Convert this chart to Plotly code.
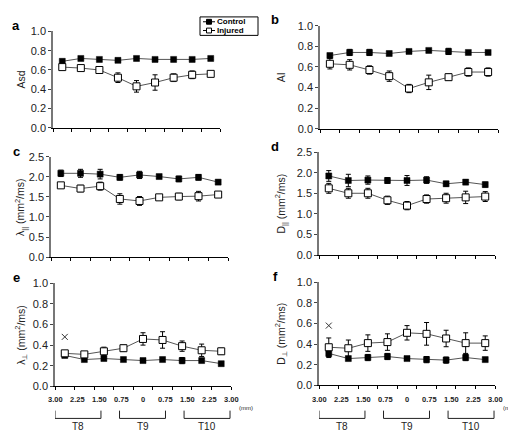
import plotly.graph_objects as go

W, H = 516, 431
FONT = "Liberation Sans, Arial, sans-serif"

positions = [0.5, 1.5, 2.5, 3.5, 4.5, 5.5, 6.5, 7.5, 8.5]
tick_labels = ["3.00", "2.25", "1.50", "0.75", "0", "0.75", "1.50", "2.25", "3.00"]
segments = ["T8", "T9", "T10"]
series_names = ["Control", "Injured"]

# panel a: Asd
asd_ctrl = [0.69, 0.72, 0.71, 0.70, 0.72, 0.71, 0.71, 0.71, 0.72]
asd_ctrl_err = [0.01, 0.01, 0.01, 0.01, 0.01, 0.01, 0.01, 0.01, 0.01]
asd_inj = [0.63, 0.62, 0.60, 0.52, 0.43, 0.47, 0.52, 0.55, 0.56]
asd_inj_err = [0.02, 0.02, 0.02, 0.05, 0.06, 0.08, 0.04, 0.04, 0.02]
# panel b: AI
ai_ctrl = [0.71, 0.74, 0.74, 0.73, 0.75, 0.76, 0.75, 0.74, 0.74]
ai_ctrl_err = [0.02, 0.03, 0.03, 0.02, 0.02, 0.01, 0.03, 0.01, 0.01]
ai_inj = [0.63, 0.62, 0.57, 0.51, 0.39, 0.45, 0.50, 0.55, 0.55]
ai_inj_err = [0.05, 0.05, 0.04, 0.05, 0.04, 0.07, 0.03, 0.04, 0.04]
# panel c: lambda parallel
lpar_ctrl = [2.09, 2.09, 2.07, 1.99, 2.05, 2.01, 1.95, 1.99, 1.87]
lpar_ctrl_err = [0.08, 0.10, 0.12, 0.07, 0.09, 0.05, 0.07, 0.07, 0.05]
lpar_inj = [1.79, 1.71, 1.77, 1.45, 1.40, 1.49, 1.51, 1.52, 1.56]
lpar_inj_err = [0.05, 0.08, 0.10, 0.13, 0.11, 0.05, 0.08, 0.12, 0.03]
# panel d: D parallel
dpar_ctrl = [1.92, 1.81, 1.82, 1.81, 1.81, 1.82, 1.73, 1.77, 1.71]
dpar_ctrl_err = [0.13, 0.15, 0.10, 0.07, 0.12, 0.08, 0.06, 0.06, 0.06]
dpar_inj = [1.62, 1.50, 1.50, 1.33, 1.20, 1.36, 1.38, 1.40, 1.42]
dpar_inj_err = [0.12, 0.12, 0.12, 0.10, 0.10, 0.10, 0.12, 0.15, 0.12]
# panel e: lambda perpendicular
lperp_ctrl = [0.30, 0.26, 0.27, 0.26, 0.25, 0.26, 0.25, 0.25, 0.22]
lperp_ctrl_err = [0.01, 0.01, 0.02, 0.01, 0.02, 0.01, 0.03, 0.02, 0.01]
lperp_inj = [0.32, 0.31, 0.34, 0.37, 0.46, 0.45, 0.39, 0.35, 0.34]
lperp_inj_err = [0.01, 0.01, 0.04, 0.03, 0.06, 0.08, 0.05, 0.06, 0.03]
lperp_outlier = [0.48]
# panel f: D perpendicular
dperp_ctrl = [0.31, 0.26, 0.27, 0.28, 0.26, 0.25, 0.245, 0.27, 0.25]
dperp_ctrl_err = [0.04, 0.02, 0.03, 0.03, 0.01, 0.03, 0.03, 0.03, 0.02]
dperp_inj = [0.37, 0.36, 0.41, 0.42, 0.51, 0.50, 0.455, 0.41, 0.41]
dperp_inj_err = [0.09, 0.08, 0.08, 0.08, 0.07, 0.11, 0.08, 0.10, 0.07]
dperp_outlier = [0.58]

panels = [
    ("a", "Asd", asd_ctrl, asd_ctrl_err, asd_inj, asd_inj_err, [0, 1], 0.2, None),
    ("b", "AI", ai_ctrl, ai_ctrl_err, ai_inj, ai_inj_err, [0, 1], 0.2, None),
    ("c", "λ<sub>||</sub> (mm<sup>2</sup>/ms)", lpar_ctrl, lpar_ctrl_err, lpar_inj, lpar_inj_err, [0, 2.5], 0.5, None),
    ("d", "D<sub>||</sub> (mm<sup>2</sup>/ms)", dpar_ctrl, dpar_ctrl_err, dpar_inj, dpar_inj_err, [0, 2.5], 0.5, None),
    ("e", "λ<sub>⊥</sub> (mm<sup>2</sup>/ms)", lperp_ctrl, lperp_ctrl_err, lperp_inj, lperp_inj_err, [0, 1], 0.2, lperp_outlier),
    ("f", "D<sub>⊥</sub> (mm<sup>2</sup>/ms)", dperp_ctrl, dperp_ctrl_err, dperp_inj, dperp_inj_err, [0, 1], 0.2, dperp_outlier),
]

# plot-area boxes in pixels: (left, right, top, bottom)
boxes = [
    (45, 212, 18, 117),
    (312, 490, 12, 118),
    (43, 220, 147, 250),
    (311, 487, 142, 248),
    (47, 223, 277, 383),
    (311, 487, 276, 382),
]
title_x = [13, 273, 13, 273, 13, 273]
mm_x = [None, None, None, None, 238, 502]


def px(x):
    return x / W


def py(y):
    return 1 - y / H


fig = go.Figure()
annotations = []
shapes = []

for i, (letter, ytitle, c, ce, inj, ie, yr, dt, outl) in enumerate(panels):
    n = i + 1
    sfx = "" if n == 1 else str(n)
    l, r, t, b = boxes[i]
    fig.add_trace(go.Scatter(
        x=positions, y=c, mode="lines+markers", name=series_names[0],
        xaxis="x" + sfx, yaxis="y" + sfx, showlegend=False,
        line=dict(color="#555555", width=1),
        marker=dict(symbol="square", size=6, color="black", line=dict(color="black", width=0.5)),
        error_y=dict(type="data", array=ce, color="black", thickness=1, width=2.5),
    ))
    fig.add_trace(go.Scatter(
        x=positions, y=inj, mode="lines+markers", name=series_names[1],
        xaxis="x" + sfx, yaxis="y" + sfx, showlegend=False,
        line=dict(color="#555555", width=1),
        marker=dict(symbol="square", size=7, color="white", line=dict(color="black", width=1)),
        error_y=dict(type="data", array=ie, color="black", thickness=1, width=2.5),
    ))
    if outl is not None:
        fig.add_trace(go.Scatter(
            x=positions[:1], y=outl, mode="markers", showlegend=False,
            xaxis="x" + sfx, yaxis="y" + sfx,
            marker=dict(symbol="x-thin-open", size=6, color="#333333", line=dict(color="#333333", width=1)),
        ))
    fig.layout["xaxis" + sfx] = dict(
        domain=[px(l), px(r)], anchor="y" + sfx, range=[0, 9],
        tickvals=list(range(10)), showticklabels=False,
        ticks="outside", ticklen=3, tickcolor="black", tickwidth=1,
        showline=True, linecolor="black", linewidth=1,
        showgrid=False, zeroline=False, fixedrange=True,
    )
    fig.layout["yaxis" + sfx] = dict(
        domain=[py(b), py(t)], anchor="x" + sfx, range=yr, dtick=dt, tick0=0,
        tickformat=".1f", ticks="outside", ticklen=3, tickcolor="#444444",
        showline=True, linecolor="#777777", linewidth=1.5,
        showgrid=False, zeroline=False, fixedrange=True,
        tickfont=dict(family=FONT, size=11, color="#222222"),
    )
    annotations.append(dict(
        text="<b>%s</b>" % letter, xref="paper", yref="paper",
        x=px(8) if i % 2 == 0 else px(267), y=py(t - 6),
        xanchor="center", yanchor="middle", showarrow=False,
        font=dict(family=FONT, size=13, color="black"),
    ))
    annotations.append(dict(
        text=ytitle, xref="paper", yref="paper", textangle=-90,
        x=px(title_x[i]), y=py((t + b) / 2),
        xanchor="center", yanchor="middle", showarrow=False,
        font=dict(family=FONT, size=10.5, color="#222222"),
    ))
    if i >= 4:
        xa = "x" + sfx
        for k, lab in enumerate(tick_labels):
            annotations.append(dict(
                text="<b>%s</b>" % lab, xref=xa, yref="paper",
                x=k * 9 / 8, y=py(397), xanchor="center", yanchor="middle",
                showarrow=False, font=dict(family=FONT, size=7.5, color="#222222"),
            ))
        annotations.append(dict(
            text="(mm)", xref="paper", yref="paper", x=px(mm_x[i]), y=py(405),
            xanchor="center", yanchor="middle", showarrow=False, borderpad=0,
            font=dict(family=FONT, size=6, color="#222222"),
        ))
        spans = [(0, 2.35), (3.3, 5.65), (6.6, 8.95)]
        for (x0, x1), seg in zip(spans, segments):
            shapes.append(dict(
                type="path", xref=xa, yref="paper",
                path="M %f,%f L %f,%f L %f,%f L %f,%f" % (
                    x0, py(408), x0, py(416), x1, py(416), x1, py(408)),
                line=dict(color="#222222", width=1),
            ))
            annotations.append(dict(
                text=seg, xref=xa, yref="paper", x=(x0 + x1) / 2, y=py(424),
                xanchor="center", yanchor="middle", showarrow=False,
                font=dict(family=FONT, size=10, color="#222222"),
            ))

# compact legend box (drawn as paper shapes + text)
lx0, lx1, ly0, ly1 = 192, 250, 3, 22
shapes.append(dict(type="rect", xref="paper", yref="paper",
                   x0=px(lx0), x1=px(lx1), y0=py(ly1), y1=py(ly0),
                   line=dict(color="black", width=1), fillcolor="white"))
for row, (name, fill) in enumerate(zip(series_names, ["black", "white"])):
    yc = 8 + row * 9
    shapes.append(dict(type="line", xref="paper", yref="paper",
                       x0=px(195), x1=px(207), y0=py(yc), y1=py(yc),
                       line=dict(color="black", width=1)))
    shapes.append(dict(type="rect", xref="paper", yref="paper",
                       x0=px(198.5), x1=px(203.5), y0=py(yc + 2.5), y1=py(yc - 2.5),
                       line=dict(color="black", width=1), fillcolor=fill))
    annotations.append(dict(
        text="<b>%s</b>" % name, xref="paper", yref="paper",
        x=px(208), y=py(yc), xanchor="left", yanchor="middle", showarrow=False,
        borderpad=0, font=dict(family=FONT, size=8, color="black"),
    ))

fig.update_layout(
    width=W, height=H, margin=dict(l=0, r=0, t=0, b=0),
    paper_bgcolor="white", plot_bgcolor="white",
    annotations=annotations, shapes=shapes,
    showlegend=False,
    font=dict(family=FONT),
)

fig.write_html("out.html")
